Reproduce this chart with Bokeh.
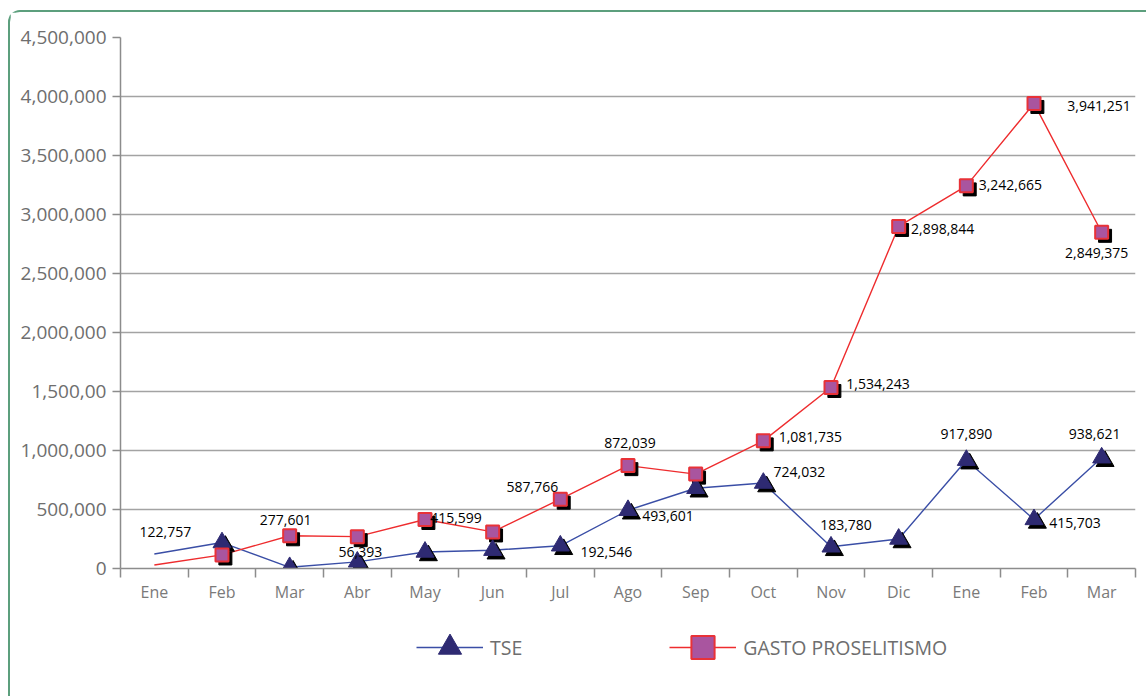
from bokeh.plotting import figure
from bokeh.layouts import column
from bokeh.models import (ColumnDataSource, Range1d, FixedTicker, Legend, LegendItem,
                          CDSView, IndexFilter)
from bokeh.transform import dodge
from bokeh.core.properties import value
from bokeh.embed import file_html
from bokeh.resources import INLINE

# ---- data -------------------------------------------------------------
months = ["Ene", "Feb", "Mar", "Abr", "May", "Jun", "Jul", "Ago",
          "Sep", "Oct", "Nov", "Dic", "Ene", "Feb", "Mar"]
tse = [122757, 220000, 10000, 56393, 140000, 155000, 192546, 493601,
       680000, 724032, 183780, 250000, 917890, 415703, 938621]
gasto = [30000, 115000, 277601, 270000, 415599, 310000, 587766, 872039,
         800000, 1081735, 1534243, 2898844, 3242665, 3941251, 2849375]
y_ticks = [0, 500000, 1000000, 1500000, 2000000, 2500000,
           3000000, 3500000, 4000000, 4500000]
y_tick_labels = ["0", "500,000", "1,000,000", "1,500,00", "2,000,000",
                 "2,500,000", "3,000,000", "3,500,000", "4,000,000", "4,500,000"]
series_names = ["TSE", "GASTO PROSELITISMO"]

# which points carry a value label, and where the label sits (px offsets)
tse_label_pos = {0: (11, -22), 3: (3, -10), 6: (46, 6), 7: (40, 6), 9: (36, -11),
                 10: (15, -22), 12: (0, -26), 13: (41, 4), 14: (-7, -24)}
gasto_label_pos = {2: (-4, -16), 4: (31, -1), 6: (-28, -12), 7: (2, -23), 9: (47, -4),
                   10: (47, -3), 11: (44, 3), 12: (44, -1), 13: (65, 3), 14: (-5, 21)}

FONT = "Open Sans"
BLUE_LINE = "#3a4ea6"
NAVY = "#2e2a72"
RED_LINE = "#ee2c2e"
SQ_FILL = "#a9559f"
SQ_LINE = "#e83238"
GRID = "#a3a3a3"
AXIS = "#8c8c8c"

xs = [i + 0.5 for i in range(len(months))]
src = ColumnDataSource(dict(x=xs, tse=tse, gasto=gasto))
# the opening month is drawn as a plain line end, without a marker
marked = CDSView(filter=IndexFilter(list(range(1, len(months)))))


def label_source(vals, pos):
    idx = sorted(pos)
    return ColumnDataSource(dict(
        x=[xs[i] for i in idx],
        y=[vals[i] for i in idx],
        t=[f"{vals[i]:,}" for i in idx],
        dx=[pos[i][0] for i in idx],
        dy=[pos[i][1] for i in idx],
    ))


p = figure(width=1136, height=600, output_backend="svg", toolbar_location=None,
           x_range=Range1d(0, len(months)), y_range=Range1d(0, 4500000),
           min_border_left=110, min_border_right=11,
           min_border_top=25, min_border_bottom=44)
p.outline_line_color = None
p.background_fill_color = "white"
p.border_fill_color = "white"

# axes
p.xaxis.ticker = FixedTicker(ticks=xs, minor_ticks=list(range(len(months) + 1)))
p.xaxis.major_label_overrides = {x: m for x, m in zip(xs, months)}
p.xaxis.major_tick_out = 0
p.xaxis.major_tick_in = 0
p.xaxis.minor_tick_out = 9
p.xaxis.minor_tick_in = 0
p.xaxis.minor_tick_line_color = AXIS
p.xaxis.minor_tick_line_width = 1.5
p.xaxis.axis_line_color = AXIS
p.xaxis.axis_line_width = 1.5
p.xaxis.major_label_standoff = 3
p.xaxis.major_label_text_font = FONT
p.xaxis.major_label_text_font_size = "16px"
p.xaxis.major_label_text_color = "#7a7a7a"

p.yaxis.ticker = FixedTicker(ticks=y_ticks, minor_ticks=[])
p.yaxis.major_label_overrides = {t: l for t, l in zip(y_ticks, y_tick_labels)}
p.yaxis.major_tick_out = 8
p.yaxis.major_tick_in = 0
p.yaxis.major_tick_line_color = AXIS
p.yaxis.major_tick_line_width = 1.5
p.yaxis.axis_line_color = AXIS
p.yaxis.axis_line_width = 1.5
p.yaxis.major_label_standoff = 6
p.yaxis.major_label_text_font = FONT
p.yaxis.major_label_text_font_size = "19px"
p.yaxis.major_label_text_color = "#6e6e6e"

p.xgrid.visible = False
p.ygrid.ticker = FixedTicker(ticks=y_ticks[1:-1], minor_ticks=[])
p.ygrid.grid_line_color = GRID
p.ygrid.grid_line_width = 1.5

# series lines
p.line("x", "tse", source=src, line_color=BLUE_LINE, line_width=1.4)
p.line("x", "gasto", source=src, line_color=RED_LINE, line_width=1.4)

# drop shadows under the markers
p.scatter(dodge("x", 0.05, range=p.x_range), dodge("tse", -30000, range=p.y_range),
          source=src, view=marked, marker="triangle", size=18,
          fill_color="black", line_color="black")
p.scatter(dodge("x", 0.05, range=p.x_range), dodge("gasto", -30000, range=p.y_range),
          source=src, view=marked, marker="square", size=13,
          fill_color="black", line_color="black")

p.scatter("x", "tse", source=src, view=marked, marker="triangle", size=18,
          fill_color=NAVY, line_color=NAVY)
p.scatter("x", "gasto", source=src, view=marked, marker="square", size=13,
          fill_color=SQ_FILL, line_color=SQ_LINE, line_width=2)

# value labels
for vals, pos in ((tse, tse_label_pos), (gasto, gasto_label_pos)):
    p.text("x", "y", text="t", x_offset="dx", y_offset="dy", source=label_source(vals, pos),
           text_font=value(FONT), text_font_size="14px", text_color="black",
           text_align="center", text_baseline="middle")

# ---- legend strip under the chart -------------------------------------
# the strip's ranges sit away from the data, so its renderers only feed the legend
lg = figure(width=1136, height=84, output_backend="svg", toolbar_location=None,
            x_range=Range1d(-3, -2), y_range=Range1d(-3, -2),
            x_axis_type=None, y_axis_type=None,
            min_border_left=0, min_border_right=0, min_border_top=0, min_border_bottom=0)
lg.outline_line_color = None
lg.grid.visible = False
lg.background_fill_color = "white"
lg.border_fill_color = "white"

l1 = lg.line("x", "tse", source=src, line_color=BLUE_LINE, line_width=1.6)
m1 = lg.scatter("x", "tse", source=src, marker="triangle", fill_color=NAVY, line_color=NAVY)
l2 = lg.line("x", "gasto", source=src, line_color=RED_LINE, line_width=1.6)
m2 = lg.scatter("x", "gasto", source=src, marker="square", fill_color=SQ_FILL,
                line_color=SQ_LINE, line_width=2)

legend = Legend(items=[LegendItem(label=series_names[0], renderers=[l1, m1], index=0),
                       LegendItem(label=series_names[1], renderers=[l2, m2], index=0)],
                orientation="horizontal", location=(296, 20),
                glyph_width=67, glyph_height=58, label_standoff=7, spacing=147,
                padding=0, margin=0, border_line_color=None, background_fill_alpha=0,
                label_text_font=FONT, label_text_font_size="19.5px", label_text_color="#6e6e6e")
lg.add_layout(legend)

page = column(p, lg, spacing=0)
page.styles = {"margin-left": "8px", "margin-top": "10px",
               "border-left": "2px solid #5c9f7d", "border-top": "2px solid #5c9f7d",
               "border-top-left-radius": "12px"}

open("out.html", "w").write(file_html(page, INLINE))
